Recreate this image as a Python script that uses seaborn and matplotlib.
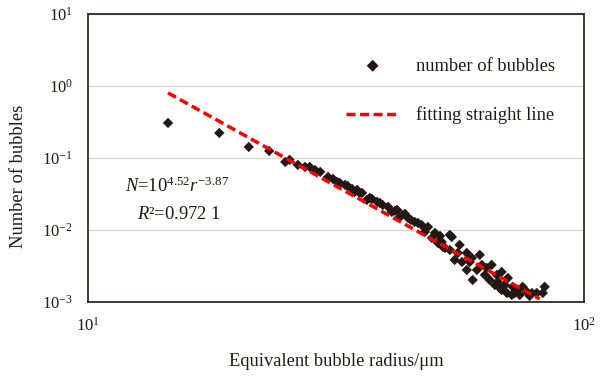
import numpy as np
import pandas as pd
import seaborn as sns
import matplotlib.pyplot as plt
from matplotlib.ticker import LogLocator, NullLocator

radius = [14.5, 18.4, 21.1, 23.2, 25.0, 25.5, 26.5, 27.4, 28.0, 28.7,
          29.4, 30.5, 31.2, 31.8, 32.2, 33.0, 33.4, 34.1, 34.5, 34.9,
          35.3, 35.7, 36.5, 37.0, 37.4, 38.3, 38.8, 39.3, 40.3, 41.0,
          41.6, 42.0, 42.6, 43.0, 43.6, 44.2, 44.8, 45.6, 46.3, 47.1,
          47.8, 48.5, 49.4, 50.1, 50.8, 51.3, 51.7, 52.0, 52.5, 53.7,
          53.7, 54.2, 54.9, 55.7, 56.2, 56.8, 58.1, 58.1, 58.9, 59.5,
          59.7, 60.9, 61.7, 62.3, 63.2, 63.7, 64.6, 65.2, 66.2, 66.8,
          67.1, 67.7, 68.3, 68.3, 69.3, 70.0, 70.3, 71.6, 71.9, 72.6,
          73.6, 74.3, 75.3, 76.8, 77.8, 78.6, 80.4, 82.7, 83.4]
count = [0.306, 0.222, 0.142, 0.125, 0.088, 0.094, 0.080, 0.075, 0.075, 0.068,
         0.064, 0.0545, 0.0511, 0.0464, 0.0450, 0.0422, 0.0408, 0.0371, 0.0337, 0.0359,
         0.0327, 0.0327, 0.0261, 0.0278, 0.0270, 0.0245, 0.0237, 0.0222, 0.0209, 0.0178,
         0.0184, 0.0190, 0.0152, 0.0162, 0.0167, 0.0147, 0.0138, 0.0129, 0.0125, 0.0117,
         0.00938, 0.0110, 0.00774, 0.00909, 0.00660, 0.00825, 0.00681, 0.00581, 0.00562, 0.00852,
         0.00527, 0.00799, 0.00383, 0.00479, 0.00619, 0.00359, 0.00479, 0.00278, 0.00359, 0.00408,
         0.00202, 0.00278, 0.00450, 0.00327, 0.00237, 0.00297, 0.00202, 0.00327, 0.00172, 0.00237,
         0.00190, 0.00156, 0.00261, 0.00147, 0.00172, 0.00133, 0.00215, 0.00125, 0.00162, 0.00133,
         0.00147, 0.00125, 0.00162, 0.00138, 0.00121, 0.00133, 0.00133, 0.00133, 0.00162]

# Ausgleichsgerade (Endpunkte)
fit_radius = [14.5, 81.5]
fit_count = [0.80, 0.0011]

df = pd.DataFrame({'radius': radius, 'count': count})
df_fit = pd.DataFrame({'radius': fit_radius, 'count': fit_count})

sns.set_style('white')
plt.rcParams['font.family'] = ['Liberation Serif', 'DejaVu Serif']
plt.rcParams['mathtext.fontset'] = 'custom'
plt.rcParams['mathtext.rm'] = 'Liberation Serif'
plt.rcParams['mathtext.it'] = 'Liberation Serif:italic'

dark = '#231815'
fs = 13.3

fig = plt.figure(figsize=(6.03, 3.76), dpi=100)
ax = fig.add_axes([0.146, 0.197, 0.822, 0.766])

sns.scatterplot(data=df, x='radius', y='count', marker='D', s=28, color=dark,
                edgecolor='none', ax=ax, label='number of bubbles', zorder=3)
sns.lineplot(data=df_fit, x='radius', y='count', color='#ff0000', lw=2.5,
             linestyle=(0, (2.6, 1.3)), ax=ax, label='fitting straight line', zorder=4)

ax.set_xscale('log')
ax.set_yscale('log')
ax.set_xlim(10, 100)
ax.set_ylim(1e-3, 10)
ax.xaxis.set_major_locator(LogLocator(base=10, numticks=5))
ax.yaxis.set_major_locator(LogLocator(base=10, numticks=10))
ax.xaxis.set_minor_locator(NullLocator())
ax.yaxis.set_minor_locator(NullLocator())

ax.grid(axis='y', color='#d9d9d9', lw=1)
ax.grid(axis='x', visible=False)
ax.tick_params(length=0, labelsize=12, pad=11, colors=dark)
for sp in ax.spines.values():
    sp.set_color(dark)
    sp.set_linewidth(1.2)

ax.set_xlabel('Equivalent bubble radius/μm', fontsize=fs, color=dark, labelpad=13)
ax.set_ylabel('Number of bubbles', fontsize=fs, color=dark)
ax.yaxis.set_label_coords(-0.123, 0.4375)

ax.text(0.075, 0.402, r'$N$=10$^{4.52}$$r^{-3.87}$', transform=ax.transAxes,
        fontsize=fs, color=dark, ha='left', va='center')
ax.text(0.099, 0.305, r'$R$²=0.972 1', transform=ax.transAxes,
        fontsize=fs, color=dark, ha='left', va='center')

ax.legend(loc='upper right', bbox_to_anchor=(0.956, 0.874), frameon=False,
          fontsize=fs, labelspacing=1.72, handlelength=2.9, handletextpad=0.87,
          borderaxespad=0, markerscale=1.15, labelcolor=dark)

plt.savefig('out.png', dpi=100)
